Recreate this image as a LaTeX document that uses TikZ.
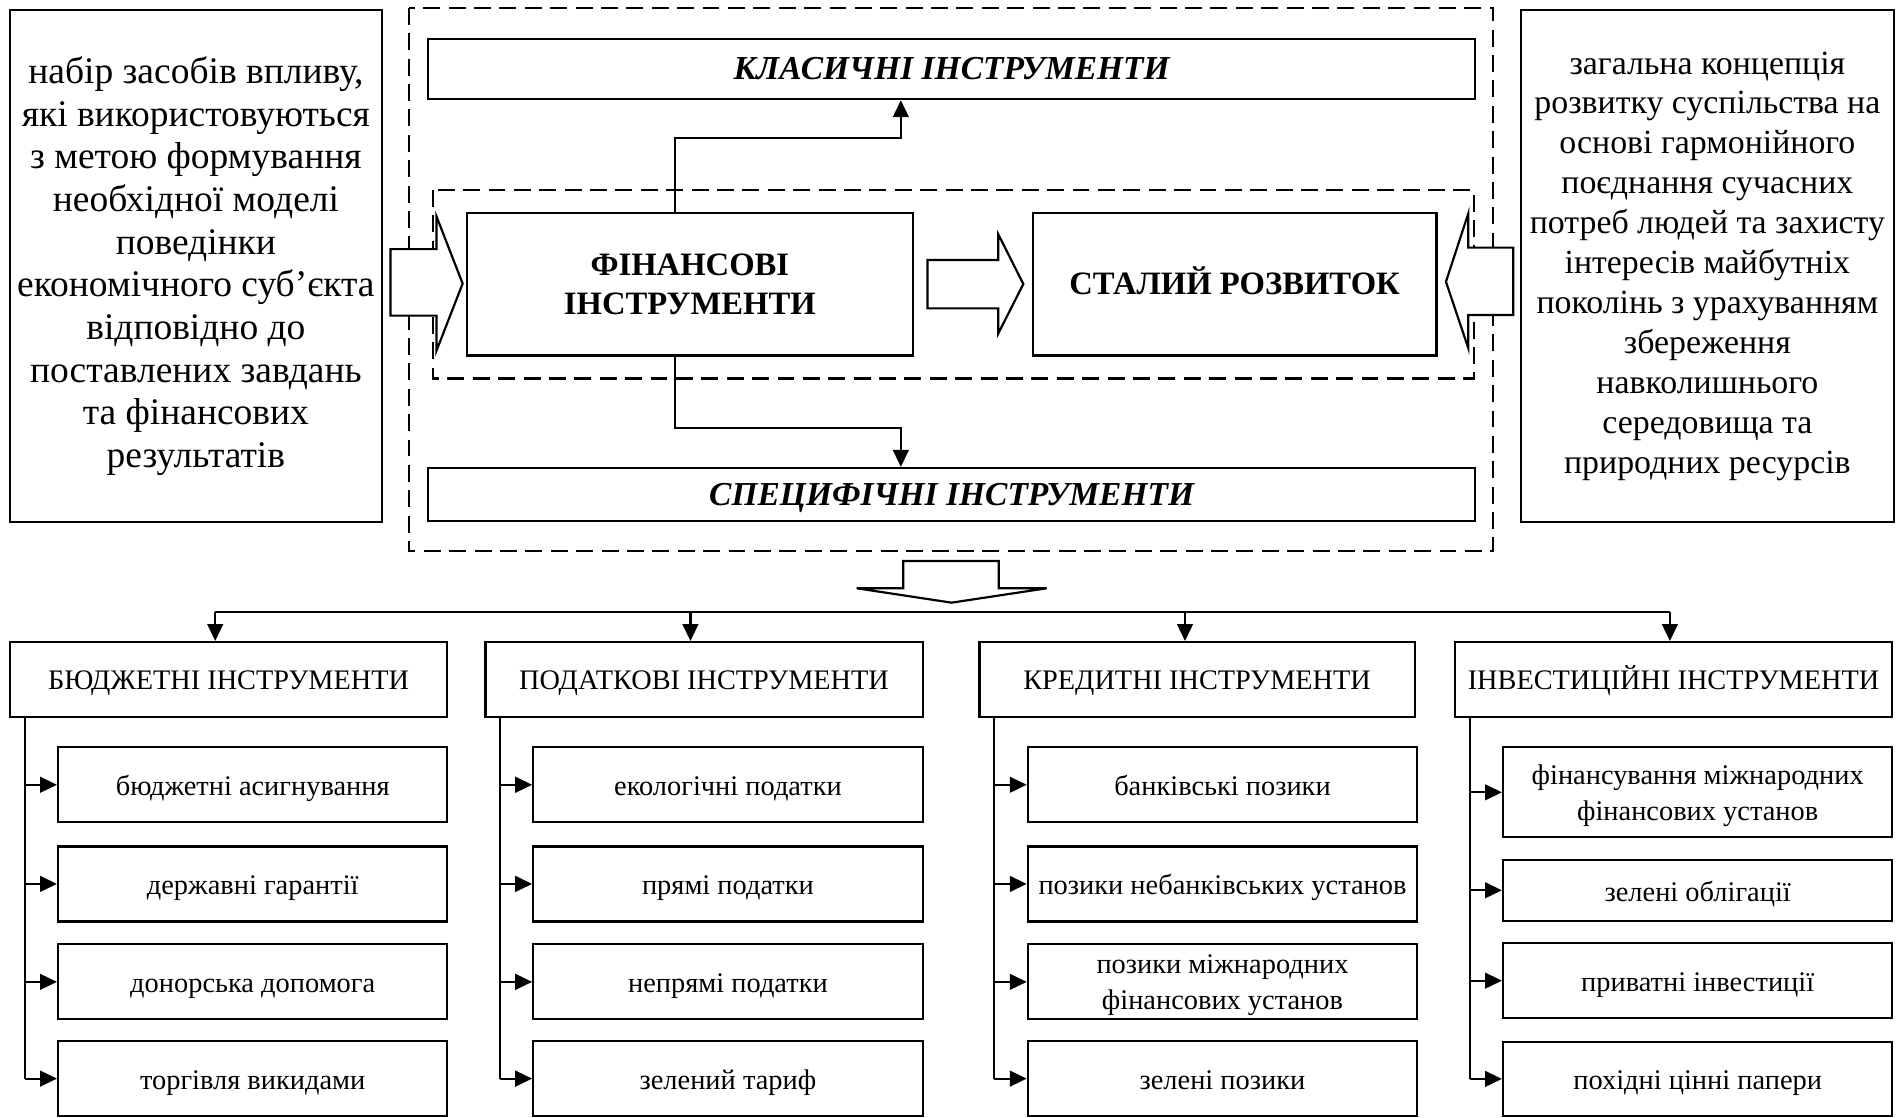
\documentclass[tikz,border=0pt]{standalone}
\usepackage{fontspec}
\setmainfont{Liberation Serif}
\usetikzlibrary{arrows.meta}
\begin{document}
\begin{tikzpicture}[x=1pt,y=-1pt,
 box/.style={draw,line width=1.8pt,inner sep=0pt,align=center,anchor=center},
 arr/.style={line width=1.8pt,-{Triangle[length=14pt,width=13pt]}},
 ln/.style={line width=1.8pt},
 dsh/.style={line width=1.8pt,dash pattern=on 14pt off 7pt},
 blk/.style={line width=1.8pt,fill=white,line join=miter},
 sidebox/.style={box,minimum width=308pt,minimum height=424pt},
 bigbold/.style={font=\fontsize{27}{32}\selectfont\bfseries},
 bigital/.style={font=\fontsize{27.7}{32}\selectfont\bfseries\itshape,text height=21pt,text depth=2.7pt},
 hdr/.style={box,minimum height=62pt,font=\fontsize{23.4}{27}\selectfont,text height=18pt,text depth=2pt},
 subbox/.style={box,minimum width=322pt,minimum height=62pt,font=\fontsize{23.5}{30}\selectfont},
 one/.style={text height=19pt,text depth=1pt},
 two/.style={text depth=0pt},
]
\useasboundingbox (0,0) rectangle (1568,923.8);

% side boxes
\node[sidebox,font=\fontsize{31}{35.3}\selectfont] (lt) at (162,220)
 {набір засобів впливу,\\які використовуються\\з метою формування\\необхідної моделі\\поведінки\\економічного суб’єкта\\відповідно до\\поставлених завдань\\та фінансових\\результатів};
\node[sidebox,font=\fontsize{28}{33}\selectfont] (rt) at (1412,220)
 {загальна концепція\\розвитку суспільства на\\основі гармонійного\\поєднання сучасних\\потреб людей та захисту\\інтересів майбутніх\\поколінь з урахуванням\\збереження\\навколишнього\\середовища та\\природних ресурсів};

% dashed frames
\draw[dsh] (338,6.5) rectangle (1235,456);
\draw[dsh] (358,157) rectangle (1219,313);

% central boxes
\node[box,minimum width=866pt,minimum height=50pt,bigital] (klas) at (787,57) {КЛАСИЧНІ ІНСТРУМЕНТИ};
\node[box,minimum width=369pt,minimum height=118pt,bigbold,fill=white] (fin) at (570.5,235) {ФІНАНСОВІ\\ІНСТРУМЕНТИ};
\node[box,minimum width=334pt,minimum height=118pt,bigbold,fill=white,text height=20pt,text depth=2.4pt] (stal) at (1021,235) {СТАЛИЙ РОЗВИТОК};
\node[box,minimum width=866pt,minimum height=44pt,bigital] (spec) at (787,409) {СПЕЦИФІЧНІ ІНСТРУМЕНТИ};

% connectors fin -> klas / spec
\coordinate (k1) at (558,114);
\coordinate (k2) at (745,114);
\draw[arr] (k1 |- fin.north) -- (k1) -- (k2) -- (k2 |- klas.south);
\coordinate (s1) at (558,354);
\coordinate (s2) at (745,354);
\draw[arr] (s1 |- fin.south) -- (s1) -- (s2) -- (s2 |- spec.north);

% block arrows
\draw[blk] (323,206) -- (361,206) -- (361,179) -- (382.6,234.5) -- (361,290) -- (361,261) -- (323,261) -- cycle;
\draw[blk] (767,215) -- (825.6,215) -- (825.6,193.8) -- (846.3,234.9) -- (825.6,275.7) -- (825.6,255) -- (767,255) -- cycle;
\draw[blk] (1251.5,204.8) -- (1214.3,204.8) -- (1214.3,176.4) -- (1195.8,233) -- (1214.3,288) -- (1214.3,260.5) -- (1251.5,260.5) -- cycle;
\draw[blk] (747,464) -- (826,464) -- (826,486.5) -- (865.6,486.5) -- (787,498.4) -- (708.5,486.5) -- (747,486.5) -- cycle;

% category headers
\node[hdr,minimum width=362pt] (h1) at (189,562) {БЮДЖЕТНІ ІНСТРУМЕНТИ};
\node[hdr,minimum width=361.5pt] (h2) at (582.25,562) {ПОДАТКОВІ ІНСТРУМЕНТИ};
\node[hdr,minimum width=360pt] (h3) at (990,562) {КРЕДИТНІ ІНСТРУМЕНТИ};
\node[hdr,minimum width=362pt] (h4) at (1384,562) {ІНВЕСТИЦІЙНІ ІНСТРУМЕНТИ};

% bus
\coordinate (b1) at (178,506);
\coordinate (b2) at (571,506);
\coordinate (b3) at (980,506);
\coordinate (b4) at (1381,506);
\draw[ln] (b1) -- (b4);
\draw[arr] (b1) -- (b1 |- h1.north);
\draw[arr] (b2) -- (b2 |- h2.north);
\draw[arr] (b3) -- (b3 |- h3.north);
\draw[arr] (b4) -- (b4 |- h4.north);

% column 1
\node[subbox,one] (a1) at (209,649) {бюджетні асигнування};
\node[subbox,one] (a2) at (209,731) {державні гарантії};
\node[subbox,one] (a3) at (209,812) {донорська допомога};
\node[subbox,one] (a4) at (209,892) {торгівля викидами};
% column 2
\node[subbox,one] (p1) at (602,649) {екологічні податки};
\node[subbox,one] (p2) at (602,731) {прямі податки};
\node[subbox,one] (p3) at (602,812) {непрямі податки};
\node[subbox,one] (p4) at (602,892) {зелений тариф};
% column 3
\node[subbox,one] (c1) at (1011,649) {банківські позики};
\node[subbox,one] (c2) at (1011,731) {позики небанківських установ};
\node[subbox,two] (c3) at (1011,812) {позики міжнародних\\фінансових установ};
\node[subbox,one] (c4) at (1011,892) {зелені позики};
% column 4
\node[subbox,two,minimum height=74.5pt] (i1) at (1404,655.25) {фінансування міжнародних\\фінансових установ};
\node[subbox,one,minimum height=50.5pt] (i2) at (1404,736.25) {зелені облігації};
\node[subbox,one] (i3) at (1404,811) {приватні інвестиції};
\node[subbox,one,minimum height=61.5pt] (i4) at (1404,892.25) {похідні цінні папери};

% trunks
\coordinate (t1) at (21,0);
\coordinate (t2) at (413.5,0);
\coordinate (t3) at (822,0);
\coordinate (t4) at (1216,0);
\draw[ln] (t1 |- h1.south) -- (t1 |- a4.west);
\draw[ln] (t2 |- h2.south) -- (t2 |- p4.west);
\draw[ln] (t3 |- h3.south) -- (t3 |- c4.west);
\draw[ln] (t4 |- h4.south) -- (t4 |- i4.west);
\foreach \n in {a1,a2,a3,a4} \draw[arr] (t1 |- \n.west) -- (\n.west);
\foreach \n in {p1,p2,p3,p4} \draw[arr] (t2 |- \n.west) -- (\n.west);
\foreach \n in {c1,c2,c3,c4} \draw[arr] (t3 |- \n.west) -- (\n.west);
\foreach \n in {i1,i2,i3,i4} \draw[arr] (t4 |- \n.west) -- (\n.west);
\end{tikzpicture}
\end{document}
